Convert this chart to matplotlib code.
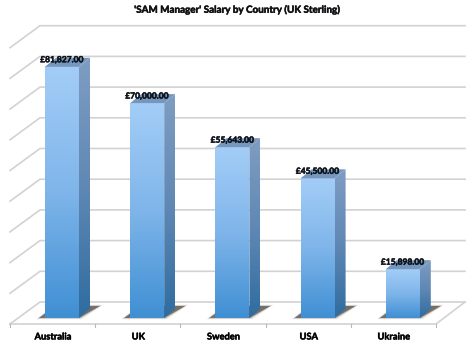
import matplotlib
matplotlib.use("Agg")
import matplotlib.pyplot as plt
import matplotlib.patheffects as pe
import numpy as np
from matplotlib.patches import Polygon
from matplotlib.colors import LinearSegmentedColormap

countries = ["Australia", "UK", "Sweden", "USA", "Ukraine"]
salaries = [81827, 70000, 55643, 45500, 15898]
salary_labels = ["£81,827.00", "£70,000.00", "£55,643.00", "£45,500.00", "£15,898.00"]
grid_values = [0, 10000, 20000, 30000, 40000, 50000, 60000, 70000, 80000, 90000]

W, H = 474, 356
# pixels per category / per pound, used for the fake 3d offsets
px_x = 1 / 85.2
px_y = 10000 / 30.7

front_cmap = LinearSegmentedColormap.from_list("front", ["#a3cdf7", "#7fb5ea", "#3f8fd3"])
side_cmap = LinearSegmentedColormap.from_list("side", ["#7f9dc2", "#5f88b4", "#2f6c9f"])

plt.rcParams["font.family"] = ["Lato", "DejaVu Sans"]
fig = plt.figure(figsize=(W / 100, H / 100), dpi=100)
ax = fig.add_axes([0, 0, 1, 1])
ax.axis("off")

x0 = -62 * px_x
x1 = x0 + W * px_x
y0 = -(H - 318) * px_y
y1 = y0 + H * px_y

# text looks heavier in the reference
heavy = [pe.withStroke(linewidth=0.35, foreground="#10131a")]


def gradient(cmap, extent, clip=None):
    g = np.linspace(0, 1, 256).reshape(-1, 1)
    im = ax.imshow(g, cmap=cmap, extent=extent, aspect="auto", origin="upper", zorder=3, interpolation="bilinear")
    if clip is not None:
        im.set_clip_path(Polygon(clip, transform=ax.transData))


# walls and floor
grid_color = "#d2d2d2"
back_l = (40 - 62) * px_x
back_r = (465 - 62) * px_x
front_l = (10 - 62) * px_x
front_r = (436 - 62) * px_x
back_y = 16 * px_y
front_y = -6 * px_y
for v in grid_values:
    ax.plot([front_l, back_l, back_r], [v + front_y, v + back_y, v + back_y], color=grid_color, lw=1.2, zorder=1)
ax.plot([front_l, front_r, back_r], [front_y, front_y, back_y], color=grid_color, lw=1.2, zorder=1)

# ticks under the front edge
for i in range(len(countries) + 1):
    tx = front_l + i * (front_r - front_l) / len(countries)
    ax.plot([tx, tx], [front_y, front_y - 3 * px_y], color="#b8b8b8", lw=0.8, zorder=1)

half = 17 * px_x
dx = 11 * px_x
dy = 9 * px_y

for i, (name, val, lab) in enumerate(zip(countries, salaries, salary_labels)):
    # shadow on the floor, a few layers so the edge goes soft
    for grow, alpha, col in [(3, 0.15, "#8a7a66"), (1.5, 0.3, "#6b6152"), (0, 0.6, "#3f3a33")]:
        g = grow * px_x
        h = grow * px_y
        shadow = [(i - half - 6 * px_x - g, -h * 0.4), (i + half + g, -h * 0.4),
                  (i + half + 21 * px_x + g, 12 * px_y + h * 0.4), (i - half + 10 * px_x, 12 * px_y + h * 0.4)]
        ax.add_patch(Polygon(shadow, closed=True, fc=col, ec="none", alpha=alpha, zorder=2))

    gradient(front_cmap, [i - half, i + half, 0, val])
    side = [(i + half, 0), (i + half + dx, dy), (i + half + dx, val + dy), (i + half, val)]
    gradient(side_cmap, [i + half, i + half + dx, 0, val + dy], clip=side)
    top = [(i - half, val), (i + half, val), (i + half + dx, val + dy), (i - half + dx, val + dy)]
    ax.add_patch(Polygon(top, closed=True, fc="#7596bd", ec="none", zorder=3))

    ax.text(i, val + 7 * px_y, lab, ha="center", va="center", fontsize=6.1, fontweight="bold", color="#10131a",
            zorder=5, path_effects=heavy)
    ax.text(i - 9 * px_x, front_y - 13 * px_y, name, ha="center", va="center", fontsize=6.7, fontweight="bold",
            color="black", path_effects=heavy)

ax.text(x0 + 237 * px_x, y1 - 10 * px_y, "'SAM Manager' Salary by Country (UK Sterling)", ha="center", va="center",
        fontsize=7.1, fontweight="bold", color="#111111", path_effects=heavy)

ax.set_xlim(x0, x1)
ax.set_ylim(y0, y1)
fig.savefig("out.png", dpi=100)
